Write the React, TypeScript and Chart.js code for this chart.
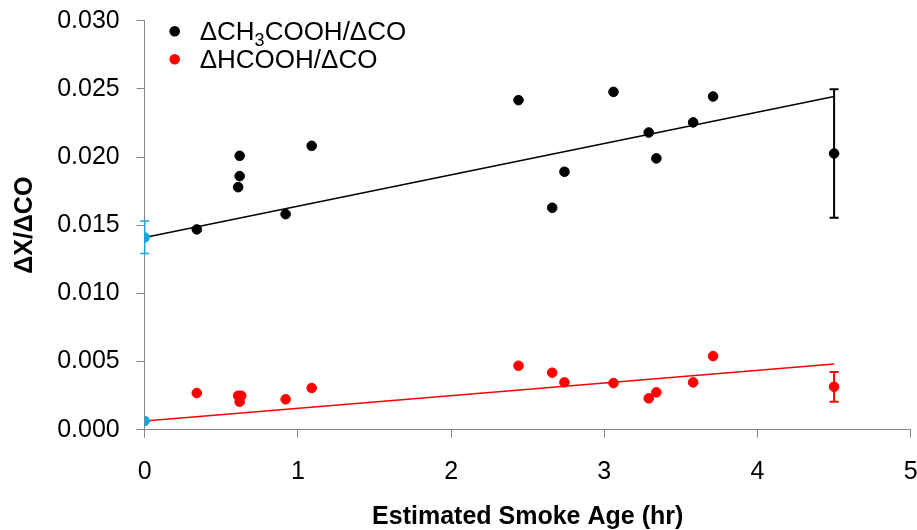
import React, { useEffect, useRef } from 'react';
import { Chart, registerables } from 'chart.js';

Chart.register(...registerables);

// ---- data ----
const aceticAge = [0.34, 0.61, 0.62, 0.62, 0.92, 1.09, 2.44, 2.66, 2.74, 3.06, 3.29, 3.34, 3.58, 3.71, 4.5];
const aceticRatio = [0.01469, 0.01779, 0.0186, 0.02009, 0.01581, 0.02082, 0.02417, 0.01628, 0.01892, 0.02478, 0.0218, 0.0199, 0.02254, 0.02444, 0.02026];

const formicAge = [0.34, 0.61, 0.62, 0.63, 0.92, 1.09, 2.44, 2.66, 2.74, 3.06, 3.29, 3.34, 3.58, 3.71, 4.5];
const formicRatio = [0.00269, 0.00249, 0.00205, 0.00249, 0.00223, 0.00306, 0.00469, 0.00418, 0.00347, 0.00342, 0.0023, 0.00274, 0.00347, 0.0054, 0.00315];

const interceptAge = [0, 0];
const interceptRatio = [0.0141, 0.00064];

const aceticFitAge = [0, 4.5];
const aceticFitRatio = [0.0141, 0.02444];
const formicFitAge = [0, 4.5];
const formicFitRatio = [0.00064, 0.00482];

// error bars: [acetic @4.5, formic @4.5, acetic intercept @0]
const errAge = [4.5, 4.5, 0];
const errLow = [0.01554, 0.00205, 0.01293];
const errHigh = [0.02498, 0.00423, 0.0153];

const xTickValues = [0, 1, 2, 3, 4, 5];
const yTickValues = [0, 0.005, 0.01, 0.015, 0.02, 0.025, 0.03];

const legendLabels = ['ΔCH₃COOH/ΔCO', 'ΔHCOOH/ΔCO'];

// ---- styles ----
const FONT = '"Liberation Sans", Arial, Helvetica, sans-serif';
const BLACK = '#000000';
const RED = '#ff0000';
const CYAN = '#1aa7e0';
const AXIS = '#868686';
const errColors = [BLACK, RED, CYAN];
const errWidths = [2, 2, 1.5];

const pts = (xs: number[], ys: number[]) => xs.map((x, i) => ({ x, y: ys[i] }));

const errorBarPlugin = {
  id: 'errorBars',
  beforeDatasetsDraw(chart: any) {
    const { ctx, scales } = chart;
    const xs = scales.x;
    const ys = scales.y;
    ctx.save();
    errAge.forEach((a, i) => {
      const px = xs.getPixelForValue(a);
      const lo = ys.getPixelForValue(errLow[i]);
      const hi = ys.getPixelForValue(errHigh[i]);
      ctx.strokeStyle = errColors[i];
      ctx.lineWidth = errWidths[i];
      ctx.beginPath();
      ctx.moveTo(px, lo);
      ctx.lineTo(px, hi);
      ctx.moveTo(px - 4.5, lo);
      ctx.lineTo(px + 4.5, lo);
      ctx.moveTo(px - 4.5, hi);
      ctx.lineTo(px + 4.5, hi);
      ctx.stroke();
    });
    ctx.restore();
  },
};

const legendPlugin = {
  id: 'customLegend',
  afterDraw(chart: any) {
    const { ctx, chartArea } = chart;
    const dotX = chartArea.left + 30;
    const textX = chartArea.left + 55;
    const rows = [chartArea.top + 10.5, chartArea.top + 38.5];
    const colors = [BLACK, RED];
    const size = 26;
    ctx.save();
    rows.forEach((cy, i) => {
      ctx.fillStyle = colors[i];
      ctx.beginPath();
      ctx.arc(dotX, cy, 5.3, 0, Math.PI * 2);
      ctx.fill();
      ctx.fillStyle = BLACK;
      ctx.textBaseline = 'alphabetic';
      ctx.textAlign = 'left';
      const base = cy + 9;
      const label = legendLabels[i];
      const subIdx = label.indexOf('₃');
      if (subIdx >= 0) {
        const pre = label.slice(0, subIdx);
        const post = label.slice(subIdx + 1);
        ctx.font = `${size}px ${FONT}`;
        ctx.fillText(pre, textX, base);
        let x = textX + ctx.measureText(pre).width;
        ctx.font = `18px ${FONT}`;
        ctx.fillText('3', x, base + 6);
        x += ctx.measureText('3').width;
        ctx.font = `${size}px ${FONT}`;
        ctx.fillText(post, x, base);
      } else {
        ctx.font = `${size}px ${FONT}`;
        ctx.fillText(label, textX, base);
      }
    });
    ctx.restore();
  },
};

const clearPadding = (s: any) => {
  s.paddingTop = 0;
  s.paddingBottom = 0;
  s.paddingLeft = 0;
  s.paddingRight = 0;
};

export default function App() {
  const ref = useRef<HTMLCanvasElement | null>(null);

  useEffect(() => {
    if (!ref.current) return;
    const pointStyle = (color: string) => ({
      backgroundColor: color,
      borderColor: color,
      pointRadius: 4.8,
      pointBorderWidth: 1,
      pointHoverRadius: 4.8,
      showLine: false,
    });
    const chart = new Chart(ref.current, {
      type: 'scatter',
      data: {
        datasets: [
          { label: 'intercept', data: pts(interceptAge, interceptRatio), ...pointStyle(CYAN) },
          { label: legendLabels[0], data: pts(aceticAge, aceticRatio), ...pointStyle(BLACK) },
          { label: legendLabels[1], data: pts(formicAge, formicRatio), ...pointStyle(RED) },
          {
            label: 'acetic fit',
            data: pts(aceticFitAge, aceticFitRatio),
            showLine: true,
            borderColor: BLACK,
            borderWidth: 1.5,
            pointRadius: 0,
            fill: false,
          },
          {
            label: 'formic fit',
            data: pts(formicFitAge, formicFitRatio),
            showLine: true,
            borderColor: RED,
            borderWidth: 1.5,
            pointRadius: 0,
            fill: false,
          },
        ],
      },
      options: {
        animation: false,
        responsive: false,
        maintainAspectRatio: false,
        layout: { padding: { left: 0, top: 20.7, right: 6.3, bottom: 0 } },
        plugins: {
          legend: { display: false },
          tooltip: { enabled: false },
        },
        scales: {
          x: {
            type: 'linear',
            min: 0,
            max: 5,
            afterBuildTicks: (s: any) => {
              s.ticks = xTickValues.map((v) => ({ value: v }));
            },
            ticks: {
              color: BLACK,
              padding: 19,
              font: { family: FONT, size: 25 },
              callback: (v: any) => String(v),
            },
            grid: {
              display: true,
              drawOnChartArea: false,
              drawTicks: true,
              tickLength: 8,
              color: AXIS,
              lineWidth: 1,
            },
            border: { display: true, color: AXIS, width: 1 },
            title: {
              display: true,
              text: 'Estimated Smoke Age (hr)',
              color: BLACK,
              font: { family: FONT, size: 25, weight: 'bold' },
              padding: { top: 0, bottom: -2 },
            },
            afterFit: (s: any) => {
              s.height = 100.3;
              clearPadding(s);
            },
          },
          y: {
            type: 'linear',
            min: 0,
            max: 0.03,
            afterBuildTicks: (s: any) => {
              s.ticks = yTickValues.map((v) => ({ value: v }));
            },
            ticks: {
              color: BLACK,
              padding: 17,
              font: { family: FONT, size: 25 },
              callback: (v: any) => Number(v).toFixed(3),
            },
            grid: {
              display: true,
              drawOnChartArea: false,
              drawTicks: true,
              tickLength: 8,
              color: AXIS,
              lineWidth: 1,
            },
            border: { display: true, color: AXIS, width: 1 },
            title: {
              display: true,
              text: 'ΔX/ΔCO',
              color: BLACK,
              font: { family: FONT, size: 25, weight: 'bold' },
              padding: { top: 10.5, bottom: 0 },
            },
            afterFit: (s: any) => {
              s.width = 144.7;
              clearPadding(s);
            },
          },
        },
      },
      plugins: [errorBarPlugin, legendPlugin],
    } as any);
    return () => chart.destroy();
  }, []);

  return (
    <div style={{ position: 'absolute', left: 0, top: 0, width: 917, height: 530, background: '#fff' }}>
      <canvas ref={ref} width={917} height={530} style={{ display: 'block', width: 917, height: 530 }} />
    </div>
  );
}
